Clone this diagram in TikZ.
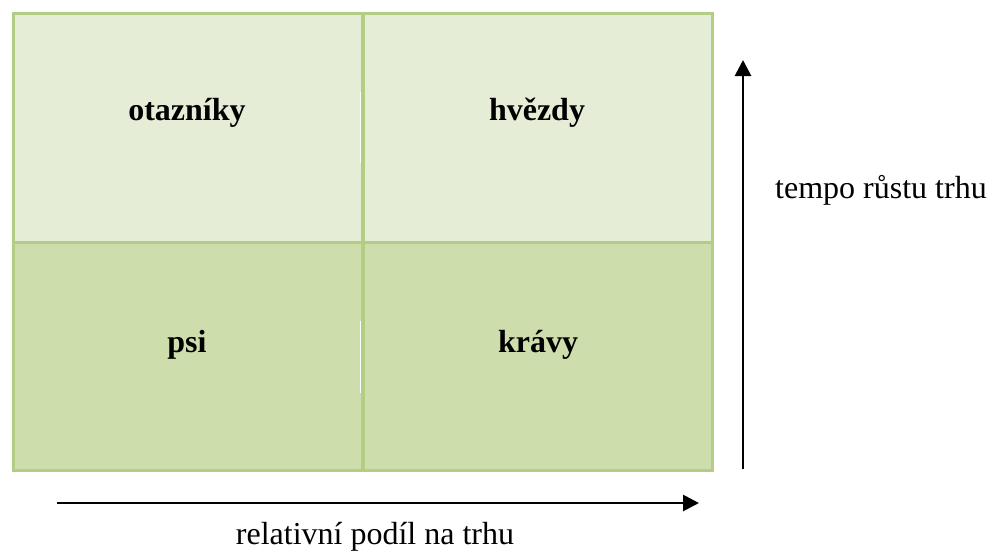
\documentclass[tikz,border=0pt]{standalone}
\usepackage{fontspec}
\setmainfont{Liberation Serif}
\usetikzlibrary{arrows.meta}
\definecolor{gridline}{HTML}{B4CD84}
\definecolor{lightcell}{HTML}{E5EDD6}
\definecolor{darkcell}{HTML}{CEDDAC}
\begin{document}
\begin{tikzpicture}[x=1pt,y=-1pt,
  cell/.style={draw=gridline,line width=3pt,rectangle,inner sep=0pt,
    minimum width=349pt},
  toprow/.style={cell,fill=lightcell,minimum height=229pt},
  botrow/.style={cell,fill=darkcell,minimum height=228pt},
  quad/.style={font=\fontsize{32}{38}\selectfont\bfseries,inner sep=0pt},
  axislabel/.style={font=\fontsize{32}{38}\selectfont,inner sep=0pt},
  axis/.style={line width=2.8pt,-{Triangle[width=16pt,length=16pt]}}]
\useasboundingbox (0,0) rectangle (993,552);
% the four quadrants
\node[toprow] (q1) at (188,128) {};
\node[toprow] (q2) at (537.5,128) {};
\node[botrow] (q3) at (188,356.5) {};
\node[botrow] (q4) at (537.5,356.5) {};
% thin white marks beside the middle divider
\draw[white,line width=0.7pt] (360.2,92) -- (360.2,163);
\draw[white,line width=0.7pt] (360.2,321) -- (360.2,393);
% quadrant labels
\node[quad] (l1) at (187,113) {otazníky};
\node[quad] (l2) at (537,113) {hvězdy};
\node[quad] (l3) at (187,345) {psi};
\node[quad] (l4) at (538,345) {krávy};
% axes
\coordinate (ya) at (743,469);
\coordinate (yb) at (743,60);
\coordinate (xa) at (57,503);
\coordinate (xb) at (699,503);
\draw[axis] (ya) -- (yb);
\draw[axis] (xa) -- (xb);
\node[axislabel] (ylab) at (881,190) {tempo růstu trhu};
\node[axislabel] (xlab) at (375,537) {relativní podíl na trhu};
\end{tikzpicture}
\end{document}
